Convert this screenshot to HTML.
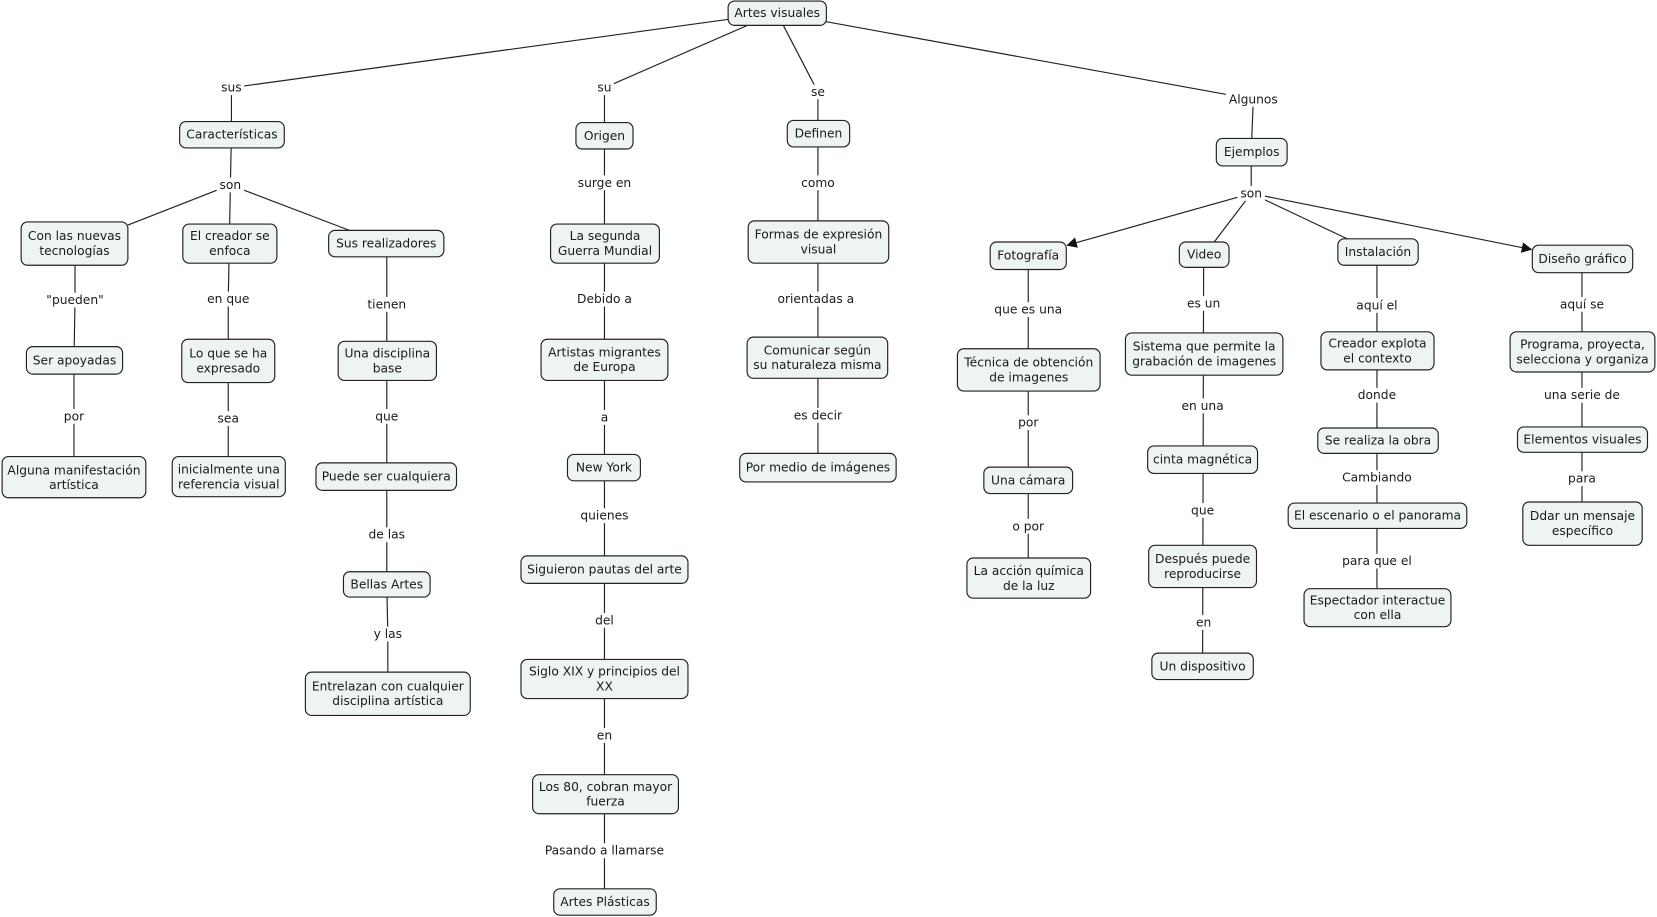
<!DOCTYPE html>
<html><head><meta charset="utf-8"><style>
html,body{margin:0;padding:0;background:#fff;}
svg{display:block;}
text{font-family:"DejaVu Sans","Liberation Sans",sans-serif;font-size:11.6px;fill:#1a1a1a;text-anchor:middle;dominant-baseline:central;}
.n{fill:#eef3f4;stroke:#222;stroke-width:1.1;}
.l{stroke:#222;stroke-width:1.1;fill:none;}
.lb{fill:#fff;}
</style></head><body>
<svg width="1657" height="917" viewBox="0 0 1568 867.7" preserveAspectRatio="none" xmlns="http://www.w3.org/2000/svg">
<defs><marker id="ar" markerWidth="10" markerHeight="10" refX="9" refY="5" orient="auto" markerUnits="userSpaceOnUse"><path d="M0,0 L10,5 L0,10 z" fill="#111"/></marker></defs>
<g class="l">
<line x1="735" y1="12" x2="219" y2="83"/><line x1="735" y1="12" x2="572" y2="83"/><line x1="735" y1="12" x2="774" y2="87"/><line x1="735" y1="12" x2="1186" y2="94"/>
<line x1="219" y1="83" x2="219" y2="127"/><line x1="572" y1="83" x2="572" y2="128"/><line x1="774" y1="87" x2="774" y2="126"/><line x1="1186" y1="94" x2="1184" y2="144"/>
<line x1="219" y1="127" x2="218" y2="175"/><line x1="218" y1="175" x2="121" y2="213"/><line x1="218" y1="175" x2="217" y2="230"/><line x1="218" y1="175" x2="336" y2="220"/>
<polyline points="71,230 71,284 70,341 70,394 70,451"/>
<polyline points="217,230 216,283 216,341 216,396 216,451"/>
<polyline points="366,230 366,288 366,341 366,394 366,451 366,506 366,553 367,600 367,656"/>
<line x1="572" y1="128" x2="572" y2="853"/>
<line x1="774" y1="126" x2="774" y2="442"/>
<line x1="1184" y1="144" x2="1184" y2="183"/>
<line x1="1184" y1="183" x2="1010" y2="232" marker-end="url(#ar)"/>
<line x1="1184" y1="183" x2="1149" y2="229"/>
<line x1="1184" y1="183" x2="1275" y2="226"/>
<line x1="1184" y1="183" x2="1449" y2="236" marker-end="url(#ar)"/>
<line x1="973" y1="242" x2="973" y2="547"/>
<line x1="1139" y1="241" x2="1138" y2="630"/>
<line x1="1303" y1="238" x2="1303" y2="575"/>
<line x1="1497" y1="245" x2="1497" y2="495"/>
</g>
<g>
<!-- labels -->
<rect class="lb" x="207" y="76" width="24" height="14"/><text x="219" y="83">sus</text>
<rect class="lb" x="563" y="76" width="18" height="14"/><text x="572" y="83">su</text>
<rect class="lb" x="766" y="80" width="16" height="14"/><text x="774" y="87">se</text>
<rect class="lb" x="1160" y="87" width="52" height="14"/><text x="1186" y="94">Algunos</text>
<rect class="lb" x="205" y="168" width="26" height="14"/><text x="218" y="175">son</text>
<rect class="lb" x="1171" y="176" width="26" height="14"/><text x="1184" y="183">son</text>
<rect class="lb" x="43" y="277" width="56" height="14"/><text x="71" y="284">"pueden"</text>
<rect class="lb" x="195" y="276" width="42" height="14"/><text x="216" y="283">en que</text>
<rect class="lb" x="345" y="281" width="42" height="14"/><text x="366" y="288">tienen</text>
<rect class="lb" x="59" y="387" width="22" height="14"/><text x="70" y="394">por</text>
<rect class="lb" x="204" y="389" width="24" height="14"/><text x="216" y="396">sea</text>
<rect class="lb" x="353" y="387" width="26" height="14"/><text x="366" y="394">que</text>
<rect class="lb" x="346" y="499" width="40" height="14"/><text x="366" y="506">de las</text>
<rect class="lb" x="351" y="593" width="32" height="14"/><text x="367" y="600">y las</text>
<rect class="lb" x="545" y="166" width="54" height="14"/><text x="572" y="173">surge en</text>
<rect class="lb" x="545" y="276" width="54" height="14"/><text x="572" y="283">Debido a</text>
<rect class="lb" x="566" y="388" width="12" height="14"/><text x="572" y="395">a</text>
<rect class="lb" x="548" y="481" width="48" height="14"/><text x="572" y="488">quienes</text>
<rect class="lb" x="561" y="580" width="22" height="14"/><text x="572" y="587">del</text>
<rect class="lb" x="563" y="689" width="18" height="14"/><text x="572" y="696">en</text>
<rect class="lb" x="515" y="798" width="114" height="14"/><text x="572" y="805">Pasando a llamarse</text>
<rect class="lb" x="758" y="166" width="32" height="14"/><text x="774" y="173">como</text>
<rect class="lb" x="736" y="276" width="72" height="14"/><text x="772" y="283">orientadas a</text>
<rect class="lb" x="751" y="386" width="46" height="14"/><text x="774" y="393">es decir</text>
<rect class="lb" x="941" y="286" width="64" height="14"/><text x="973" y="293">que es una</text>
<rect class="lb" x="962" y="393" width="22" height="14"/><text x="973" y="400">por</text>
<rect class="lb" x="957" y="491" width="32" height="14"/><text x="973" y="498">o por</text>
<rect class="lb" x="1122" y="280" width="34" height="14"/><text x="1139" y="287">es un</text>
<rect class="lb" x="1117" y="377" width="42" height="14"/><text x="1138" y="384">en una</text>
<rect class="lb" x="1125" y="476" width="26" height="14"/><text x="1138" y="483">que</text>
<rect class="lb" x="1130" y="582" width="18" height="14"/><text x="1139" y="589">en</text>
<rect class="lb" x="1282" y="282" width="42" height="14"/><text x="1303" y="289">aquí el</text>
<rect class="lb" x="1284" y="367" width="38" height="14"/><text x="1303" y="374">donde</text>
<rect class="lb" x="1270" y="445" width="66" height="14"/><text x="1303" y="452">Cambiando</text>
<rect class="lb" x="1270" y="524" width="66" height="14"/><text x="1303" y="531">para que el</text>
<rect class="lb" x="1474" y="281" width="46" height="14"/><text x="1497" y="288">aquí se</text>
<rect class="lb" x="1460" y="367" width="74" height="14"/><text x="1497" y="374">una serie de</text>
<rect class="lb" x="1482" y="446" width="30" height="14"/><text x="1497" y="453">para</text>
</g>
<g>
<rect class="n" x="689" y="1" width="93" height="23" rx="6"/><text x="735.5" y="12.5">Artes visuales</text>
<rect class="n" x="170" y="115" width="99" height="25" rx="6"/><text x="219.5" y="127.5">Características</text>
<rect class="n" x="545" y="116" width="54" height="25" rx="6"/><text x="572" y="128.5">Origen</text>
<rect class="n" x="745" y="114" width="59" height="25" rx="6"/><text x="774.5" y="126.5">Definen</text>
<rect class="n" x="1151" y="131" width="67" height="26" rx="6"/><text x="1184.5" y="144">Ejemplos</text>

<rect class="n" x="20" y="210" width="101" height="41" rx="6"/><text x="70.5" y="223.5">Con las nuevas</text><text x="70.5" y="237.5">tecnologías</text>
<rect class="n" x="173" y="212" width="89" height="37" rx="6"/><text x="217.5" y="223.5">El creador se</text><text x="217.5" y="237.5">enfoca</text>
<rect class="n" x="311" y="218" width="109" height="25" rx="6"/><text x="365.5" y="230.5">Sus realizadores</text>
<rect class="n" x="25" y="328" width="91" height="26" rx="6"/><text x="70.5" y="341">Ser apoyadas</text>
<rect class="n" x="172" y="321" width="88" height="41" rx="6"/><text x="216" y="334.5">Lo que se ha</text><text x="216" y="348.5">expresado</text>
<rect class="n" x="320" y="323" width="93" height="37" rx="6"/><text x="366.5" y="334.5">Una disciplina</text><text x="366.5" y="348.5">base</text>
<rect class="n" x="2" y="432" width="136" height="39" rx="6"/><text x="70" y="445">Alguna manifestación</text><text x="70" y="459">artística</text>
<rect class="n" x="163" y="432" width="107" height="38" rx="6"/><text x="216.5" y="444.5">inicialmente una</text><text x="216.5" y="458.5">referencia visual</text>
<rect class="n" x="299" y="438" width="133" height="26" rx="6"/><text x="365.5" y="451">Puede ser cualquiera</text>
<rect class="n" x="325" y="541" width="82" height="24" rx="6"/><text x="366" y="553">Bellas Artes</text>
<rect class="n" x="289" y="636" width="156" height="41" rx="6"/><text x="367" y="649.5">Entrelazan con cualquier</text><text x="367" y="663.5">disciplina artística</text>

<rect class="n" x="521" y="212" width="103" height="37" rx="6"/><text x="572.5" y="223.5">La segunda</text><text x="572.5" y="237.5">Guerra Mundial</text>
<rect class="n" x="512" y="321" width="120" height="39" rx="6"/><text x="572" y="333.5">Artistas migrantes</text><text x="572" y="347.5">de Europa</text>
<rect class="n" x="537" y="430" width="69" height="25" rx="6"/><text x="571.5" y="442.5">New York</text>
<rect class="n" x="493" y="526" width="158" height="26" rx="6"/><text x="572" y="539">Siguieron pautas del arte</text>
<rect class="n" x="493" y="624" width="158" height="37" rx="6"/><text x="572" y="635.5">Siglo XIX y principios del</text><text x="572" y="649.5">XX</text>
<rect class="n" x="504" y="733" width="138" height="37" rx="6"/><text x="573" y="744.5">Los 80, cobran mayor</text><text x="573" y="758.5">fuerza</text>
<rect class="n" x="524" y="841" width="97" height="25" rx="6"/><text x="572.5" y="853.5">Artes Plásticas</text>

<rect class="n" x="708" y="209" width="133" height="40" rx="6"/><text x="774.5" y="222">Formas de expresión</text><text x="774.5" y="236">visual</text>
<rect class="n" x="707" y="319" width="133" height="39" rx="6"/><text x="773.5" y="331.5">Comunicar según</text><text x="773.5" y="345.5">su naturaleza misma</text>
<rect class="n" x="700" y="429" width="148" height="27" rx="6"/><text x="774" y="442.5">Por medio de imágenes</text>

<rect class="n" x="937" y="229" width="72" height="26" rx="6"/><text x="973" y="242">Fotografía</text>
<rect class="n" x="1116" y="229" width="47" height="24" rx="6"/><text x="1139.5" y="241">Video</text>
<rect class="n" x="1266" y="226" width="76" height="25" rx="6"/><text x="1304" y="238.5">Instalación</text>
<rect class="n" x="1450" y="232" width="95" height="26" rx="6"/><text x="1497.5" y="245">Diseño gráfico</text>

<rect class="n" x="906" y="330" width="135" height="40" rx="6"/><text x="973.5" y="343">Técnica de obtención</text><text x="973.5" y="357">de imagenes</text>
<rect class="n" x="931" y="442" width="84" height="25" rx="6"/><text x="973" y="454.5">Una cámara</text>
<rect class="n" x="915" y="528" width="117" height="38" rx="6"/><text x="973.5" y="540.5">La acción química</text><text x="973.5" y="554.5">de la luz</text>

<rect class="n" x="1065" y="315" width="149" height="40" rx="6"/><text x="1139.5" y="328">Sistema que permite la</text><text x="1139.5" y="342">grabación de imagenes</text>
<rect class="n" x="1086" y="422" width="104" height="26" rx="6"/><text x="1138" y="435">cinta magnética</text>
<rect class="n" x="1087" y="516" width="102" height="40" rx="6"/><text x="1138" y="529">Después puede</text><text x="1138" y="543">reproducirse</text>
<rect class="n" x="1090" y="618" width="96" height="25" rx="6"/><text x="1138" y="630.5">Un dispositivo</text>

<rect class="n" x="1250" y="314" width="107" height="36" rx="6"/><text x="1303.5" y="325">Creador explota</text><text x="1303.5" y="339">el contexto</text>
<rect class="n" x="1247" y="405" width="114" height="24" rx="6"/><text x="1304" y="417">Se realiza la obra</text>
<rect class="n" x="1219" y="476" width="169" height="24" rx="6"/><text x="1303.5" y="488">El escenario o el panorama</text>
<rect class="n" x="1234" y="557" width="139" height="36" rx="6"/><text x="1303.5" y="568">Espectador interactue</text><text x="1303.5" y="582">con ella</text>

<rect class="n" x="1429" y="314" width="137" height="38" rx="6"/><text x="1497.5" y="326">Programa, proyecta,</text><text x="1497.5" y="340">selecciona y organiza</text>
<rect class="n" x="1436" y="404" width="123" height="24" rx="6"/><text x="1497.5" y="416">Elementos visuales</text>
<rect class="n" x="1441" y="475" width="113" height="41" rx="6"/><text x="1497.5" y="488.5">Ddar un mensaje</text><text x="1497.5" y="502.5">específico</text>
</g>
</svg>
</body></html>
